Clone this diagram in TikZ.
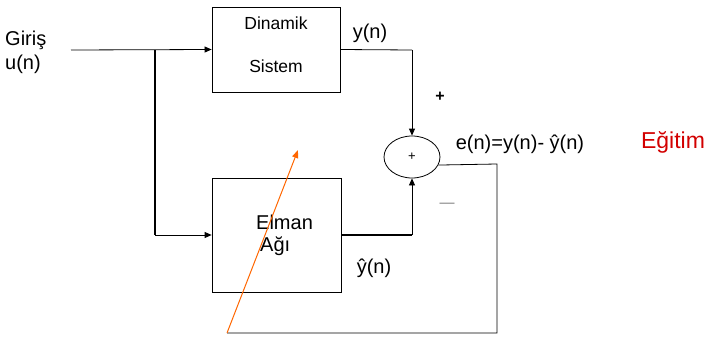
\documentclass[tikz,border=0pt]{standalone}
\usepackage{fontspec}
\setmainfont{Liberation Sans}
\usetikzlibrary{arrows.meta,shapes.geometric}
\tikzset{
  blk/.style={draw, line width=0.8pt, inner sep=0pt},
  lbl/.style={inner sep=0pt, font=\fontsize{20}{23}\selectfont},
  wire/.style={line width=0.8pt},
  thick wire/.style={line width=1.8pt},
  tip/.style={-{Triangle[length=7pt,width=6pt]}},
}
\begin{document}
\begin{tikzpicture}[x=1pt,y=-1pt]
\useasboundingbox (0,0) rectangle (713,340);
% blocks
\node[blk, minimum width=128pt, minimum height=85pt] (dyn) at (276,49.5) {};
\node[lbl, font=\fontsize{17.5}{20}\selectfont] (dyn1) at (276,23) {Dinamik};
\node[lbl, font=\fontsize{17.5}{20}\selectfont] (dyn2) at (276,66) {Sistem};
\node[blk, minimum width=129pt, minimum height=114pt] (elm) at (276.5,235) {};
\node[lbl, anchor=west] (elm1) at (256,222) {Elman};
\node[lbl, anchor=west] (elm2) at (260,246) {Ağı};
\node[draw, ellipse, line width=0.8pt, minimum width=56pt, minimum height=42pt, inner sep=0pt,
      font=\fontsize{13}{15}\selectfont] (sum) at (412,157) {+};
% labels
\node[lbl, anchor=west] (gir) at (5,40) {Giriş};
\node[lbl, anchor=west] (un) at (5,64) {u(n)};
\node[lbl] (yn) at (370,33) {y(n)};
\node[lbl] (yhat) at (374,268) {ŷ(n)};
\node[lbl] (en) at (520,144) {e(n)=y(n)- ŷ(n)};
\node[lbl, font=\fontsize{16}{18}\bfseries\selectfont] (plus) at (440,97) {+};
\node[lbl, text=gray, font=\fontsize{15}{18}\selectfont] (minus) at (447,205) {—};
\node[lbl, text={rgb,255:red,210;green,0;blue,0}, font=\fontsize{23}{26}\selectfont] (egt) at (673,142) {Eğitim};
% coordinates
\coordinate (in) at (71,50);
\coordinate (br) at (155,50);
\coordinate (brd) at (155,235);
\coordinate (ycorner) at (412,50);
\coordinate (ecorner) at (412,235);
\coordinate (fb1) at (497,164);
\coordinate (fb2) at (497,333);
\coordinate (fb3) at (227,333);
\coordinate (otip) at (298,150);
% wires
\draw[wire, tip] (in) -- (dyn.west);
\draw[thick wire] (br) -- (brd);
\draw[wire, tip] (brd) -- (elm.west);
\draw[wire] (dyn.east) -- (ycorner);
\draw[wire, tip] (ycorner) -- (sum.north);
\draw[thick wire] (elm.east) -- (ecorner);
\draw[wire, tip] (ecorner) -- (sum.south);
\draw[wire] (sum.-17) -- (fb1) -- (fb2) -- (fb3);
\draw[line width=1pt, color={rgb,255:red,255;green,102;blue,0}, -{Triangle[length=8pt,width=6pt]}] (fb3) -- (otip);
\end{tikzpicture}
\end{document}
